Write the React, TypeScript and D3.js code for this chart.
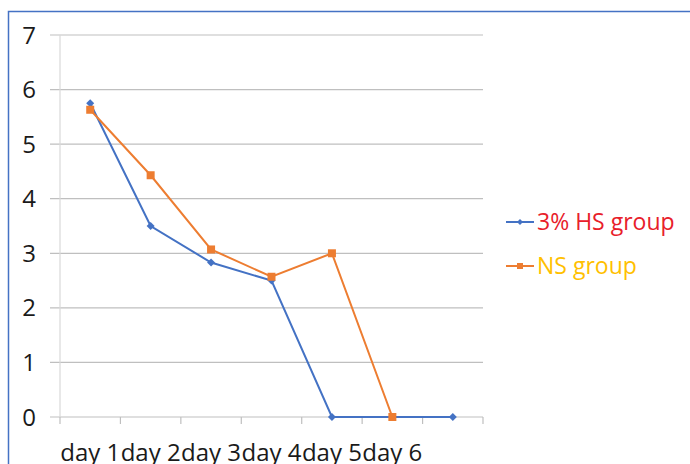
import React from "react";
import * as d3 from "d3";

const days = ["day 1", "day 2", "day 3", "day 4", "day 5", "day 6", ""];
const hsGroup = [5.75, 3.5, 2.83, 2.5, 0, 0, 0];
const nsGroup = [5.63, 4.43, 3.07, 2.57, 3.0, 0];
const yTicks = [0, 1, 2, 3, 4, 5, 6, 7];

const BLUE = "#4472C4";
const ORANGE = "#ED7D31";
const FONT = "'Open Sans', sans-serif";

export default function App() {
  const width = 690,
    height = 464;
  const plot = { left: 60, right: 483, top: 35, bottom: 417 };

  const x = d3
    .scaleBand()
    .domain(days.map((d, i) => String(i)))
    .range([plot.left, plot.right]);
  const y = d3.scaleLinear().domain([0, 7]).range([plot.bottom, plot.top]);
  const cx = (i) => x(String(i)) + x.bandwidth() / 2;

  const line = d3
    .line()
    .x((d, i) => cx(i))
    .y((d) => y(d));

  const diamond = (px, py, r = 4) =>
    `M${px},${py - r}L${px + r},${py}L${px},${py + r}L${px - r},${py}Z`;

  const legend = [
    { name: "3% HS group", color: BLUE, text: "#E8202A", shape: "diamond" },
    { name: "NS group", color: ORANGE, text: "#FFC000", shape: "square" },
  ];

  return (
    <svg
      width={width}
      height={height}
      style={{ position: "absolute", left: 0, top: 0, background: "#fff" }}
      fontFamily={FONT}
    >
      {/* outer border */}
      <rect x={8.5} y={11.5} width={700} height={500} fill="none" stroke={BLUE} strokeWidth={1.5} />

      {/* gridlines */}
      {yTicks.map((t) => (
        <line key={t} x1={50} x2={plot.right} y1={y(t)} y2={y(t)} stroke="#BFBFBF" strokeWidth={1.2} />
      ))}
      <line x1={plot.left} x2={plot.left} y1={plot.top} y2={plot.bottom} stroke="#D9D9D9" strokeWidth={1.2} />

      {/* x ticks */}
      {days.map((d, i) => (
        <line
          key={"t" + i}
          x1={x(String(i)) + x.bandwidth()}
          x2={x(String(i)) + x.bandwidth()}
          y1={plot.bottom}
          y2={plot.bottom + 7}
          stroke="#BFBFBF"
          strokeWidth={1.2}
        />
      ))}
      <line x1={plot.left} x2={plot.left} y1={plot.bottom} y2={plot.bottom + 7} stroke="#BFBFBF" strokeWidth={1.2} />

      {/* y labels */}
      {yTicks.map((t) => (
        <text key={"y" + t} x={36} y={y(t)} dy="0.36em" textAnchor="end" fontSize={24} fill="#1a1a1a">
          {t}
        </text>
      ))}

      {/* x labels */}
      {days.map((d, i) => (
        <text key={"x" + i} x={cx(i)} y={461} textAnchor="middle" fontSize={24} fill="#1a1a1a">
          {d}
        </text>
      ))}

      {/* series */}
      <path d={line(hsGroup)} fill="none" stroke={BLUE} strokeWidth={2} />
      <path d={line(nsGroup)} fill="none" stroke={ORANGE} strokeWidth={2} />
      {hsGroup.map((v, i) => (
        <path key={"hs" + i} d={diamond(cx(i), y(v))} fill={BLUE} />
      ))}
      {nsGroup.map((v, i) => (
        <rect key={"ns" + i} x={cx(i) - 4} y={y(v) - 4} width={8} height={8} fill={ORANGE} />
      ))}

      {/* legend */}
      {legend.map((l, i) => {
        const ly = 222 + i * 44;
        return (
          <g key={l.name}>
            <line x1={506} x2={534} y1={ly} y2={ly} stroke={l.color} strokeWidth={2} />
            {l.shape === "diamond" ? (
              <path d={diamond(520, ly, 3)} fill={l.color} />
            ) : (
              <rect x={517} y={ly - 3} width={6} height={6} fill={l.color} />
            )}
            <text x={537} y={ly} dy="0.36em" fontSize={23} fill={l.text}>
              {l.name}
            </text>
          </g>
        );
      })}
    </svg>
  );
}
